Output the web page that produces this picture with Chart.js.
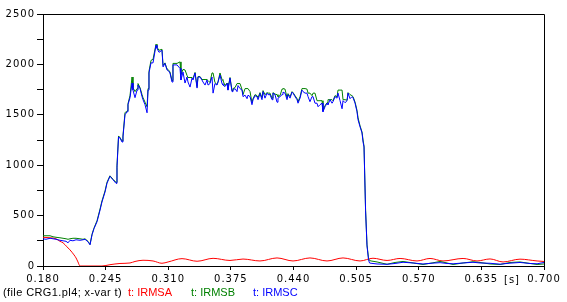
<!DOCTYPE html>
<html><head><meta charset="utf-8">
<script src="https://cdn.jsdelivr.net/npm/chart.js@4.4.1/dist/chart.umd.min.js"></script>
<style>
html,body{margin:0;padding:0;background:#fff;}
#wrap{position:relative;width:567px;height:302px;overflow:hidden;}
canvas{display:block;}
.lg{position:absolute;font-family:"Liberation Sans",Arial,sans-serif;font-size:11px;white-space:nowrap;line-height:11px;}
</style></head>
<body>
<div id="wrap">
<canvas id="c" width="567" height="302"></canvas>
<div class="lg" style="left:3px;top:287px;color:#000;letter-spacing:0.4px;">(file CRG1.pl4; x-var t)</div>
<div class="lg" style="left:128px;top:287px;color:#ff0000;">t: IRMSA</div>
<div class="lg" style="left:191px;top:287px;color:#008000;">t: IRMSB</div>
<div class="lg" style="left:253px;top:287px;color:#0000ff;">t: IRMSC</div>
<div class="lg" style="left:504px;top:274px;color:#000;font-family:'DejaVu Sans';font-size:10px;letter-spacing:1px;">[s]</div>
</div>
<script>
const xTicks = [0.180,0.245,0.310,0.375,0.440,0.505,0.570,0.635,0.700];
const yTicks = [0,250,500,750,1000,1250,1500,1750,2000,2250,2500];

const timeA = [0.1800,0.1873,0.1935,0.1976,0.2008,0.2049,0.2080,0.2122,0.2143,0.2163,0.2184,0.2412,0.2495,0.2599,0.2703,0.2755,0.2838,0.2942,0.3035,0.3098,0.3243,0.3399,0.3565,0.3741,0.3876,0.4052,0.4229,0.4395,0.4571,0.4748,0.4914,0.5091,0.5225,0.5371,0.5506,0.5682,0.5817,0.5952,0.6160,0.6305,0.6440,0.6575,0.6751,0.6928,0.7000];
const irmsA = [285,280,270,245,230,190,160,110,80,40,0,0,13,25,30,45,57,50,27,40,73,47,76,55,69,50,80,50,80,50,80,50,77,55,75,50,75,50,75,50,70,40,68,50,45];

const timeBC = [
0.1800,0.1831,0.1873,0.1904,0.1935,0.1976,0.2008,0.2039,0.2060,0.2080,
0.2111,0.2143,0.2184,0.2215,0.2236,0.2267,0.2288,0.2309,0.2329,0.2361,
0.2392,0.2412,0.2444,0.2464,0.2495,0.2527,0.2558,0.2568,0.2584,0.2599,
0.2620,0.2630,0.2651,0.2672,0.2682,0.2703,0.2724,0.2734,0.2755,0.2776,
0.2786,0.2807,0.2828,0.2838,0.2859,0.2880,0.2890,0.2900,0.2921,0.2942,
0.2952,0.2973,0.2983,0.3004,0.3035,0.3046,0.3066,0.3087,0.3098,0.3118,
0.3139,0.3149,0.3191,0.3222,0.3232,0.3253,0.3274,0.3295,0.3305,0.3326,
0.3347,0.3357,0.3378,0.3399,0.3409,0.3430,0.3450,0.3461,0.3482,0.3502,
0.3513,0.3533,0.3554,0.3565,0.3585,0.3606,0.3617,0.3637,0.3658,0.3668,
0.3689,0.3710,0.3720,0.3741,0.3762,0.3772,0.3793,0.3814,0.3824,0.3845,
0.3866,0.3876,0.3897,0.3918,0.3928,0.3949,0.3969,0.3980,0.4001,0.4021,
0.4032,0.4052,0.4073,0.4084,0.4104,0.4125,0.4136,0.4156,0.4177,0.4187,
0.4208,0.4229,0.4239,0.4260,0.4281,0.4291,0.4312,0.4333,0.4343,0.4364,
0.4385,0.4395,0.4416,0.4437,0.4447,0.4468,0.4488,0.4499,0.4520,0.4540,
0.4551,0.4571,0.4592,0.4603,0.4623,0.4644,0.4655,0.4675,0.4696,0.4706,
0.4727,0.4748,0.4758,0.4779,0.4800,0.4810,0.4831,0.4852,0.4862,0.4883,
0.4904,0.4914,0.4935,0.4956,0.4966,0.4987,0.5007,0.5018,0.5039,0.5059,
0.5070,0.5091,0.5111,0.5122,0.5132,0.5148,0.5163,0.5179,0.5189,
0.5205,0.5267,0.5371,0.5454,0.5537,0.5641,0.5744,0.5838,0.5921,0.5994,0.6056,0.6160,0.6263,0.6336,0.6440,0.6544,0.6647,0.6751,0.6855,0.6928,0.7000];

const irmsB = [
300,300,300,290,285,280,275,270,265,270,
275,275,270,265,270,245,215,315,375,450,
565,645,745,830,895,860,830,1000,1290,1275,
1240,1290,1520,1540,1610,1690,1875,1770,1730,1760,
1810,1770,1700,1670,1625,1580,1760,1930,2040,2050,
2050,2200,2170,2140,2150,1990,2015,1955,1950,1925,
1840,2010,2010,2025,1900,1950,1945,1890,1870,1870,
1870,1860,1920,1780,1880,1880,1850,1850,1850,1850,
1840,1820,1915,1915,1820,1800,1830,1915,1850,1840,
1790,1815,1760,1870,1740,1760,1770,1810,1810,1810,
1750,1700,1760,1760,1760,1730,1620,1660,1700,1690,
1670,1720,1670,1740,1700,1720,1715,1715,1665,1720,
1705,1700,1680,1690,1755,1760,1755,1670,1710,1680,
1730,1720,1690,1660,1630,1680,1760,1760,1760,1755,
1715,1715,1690,1715,1715,1640,1640,1640,1640,1545,
1590,1620,1650,1650,1650,1640,1690,1680,1745,1745,
1745,1650,1650,1645,1720,1700,1690,1680,1625,1545,
1470,1390,1330,1250,1190,560,210,75,55,
50,40,17,35,45,30,15,30,45,30,15,30,42,35,20,15,35,40,25,15,20];

const irmsC = [
270,265,275,270,265,255,250,245,230,255,
250,260,255,260,265,240,210,310,370,440,
555,635,735,820,890,855,820,980,1280,1270,
1230,1280,1500,1530,1600,1670,1815,1745,1670,1745,
1795,1760,1680,1650,1600,1520,1745,1915,2015,2015,
2015,2190,2160,2120,2140,1975,2010,1945,1940,1915,
1825,1995,1995,1960,1845,1925,1815,1875,1825,1775,
1865,1845,1915,1765,1875,1875,1845,1825,1795,1845,
1795,1810,1875,1715,1810,1795,1825,1895,1810,1795,
1780,1810,1745,1865,1730,1745,1760,1730,1790,1760,
1745,1680,1695,1660,1695,1680,1600,1650,1690,1680,
1650,1710,1650,1730,1665,1715,1700,1700,1650,1715,
1700,1625,1665,1680,1700,1725,1715,1650,1700,1665,
1725,1715,1680,1650,1615,1665,1745,1730,1715,1715,
1680,1630,1680,1680,1615,1615,1580,1600,1615,1530,
1580,1615,1600,1650,1615,1630,1680,1665,1715,1640,
1560,1640,1620,1640,1715,1660,1680,1670,1615,1530,
1450,1380,1320,1230,1180,550,200,60,30,
27,20,17,25,37,30,20,28,33,25,22,30,37,30,27,18,28,35,25,22,35];

const pts = (t, v) => t.map((x, i) => ({x: x, y: v[i]}));

const framePlugin = {
  id: 'frame',
  beforeDraw(chart) { chart.ctx.letterSpacing = '1px'; },
  afterDraw(chart) {
    const a = chart.chartArea, ctx = chart.ctx;
    ctx.save();
    ctx.strokeStyle = '#000'; ctx.lineWidth = 1;
    ctx.beginPath();
    ctx.moveTo(Math.round(a.left) + 0.5, Math.round(a.top) + 0.5);
    ctx.lineTo(Math.round(a.right) + 0.5, Math.round(a.top) + 0.5);
    ctx.lineTo(Math.round(a.right) + 0.5, Math.round(a.bottom) + 0.5);
    ctx.stroke();
    ctx.restore();
  }
};

const tickFont = {family: 'DejaVu Sans', size: 10};

new Chart(document.getElementById('c'), {
  type: 'line',
  data: {
    datasets: [
      {label: 't: IRMSC', data: pts(timeBC, irmsC), borderColor: '#0000ff', borderWidth: 1, pointRadius: 0, tension: 0, order: 0},
      {label: 't: IRMSB', data: pts(timeBC, irmsB), borderColor: '#008000', borderWidth: 1, pointRadius: 0, tension: 0, order: 1},
      {label: 't: IRMSA', data: pts(timeA, irmsA), borderColor: '#ff0000', borderWidth: 1, pointRadius: 0, cubicInterpolationMode: 'monotone', order: 2}
    ]
  },
  options: {
    responsive: false, animation: false, devicePixelRatio: 1,
    layout: {padding: {left: 0, right: 23, top: 14, bottom: 16}},
    plugins: {legend: {display: false}, tooltip: {enabled: false}},
    scales: {
      x: {
        type: 'linear', min: 0.18, max: 0.70,
        afterBuildTicks: s => { s.ticks = xTicks.map(v => ({value: v})); },
        afterFit: s => { s.height = 20; },
        ticks: {callback: v => Number(v).toFixed(3), maxRotation: 0, autoSkip: false, padding: 3, color: '#000', font: tickFont},
        grid: {drawOnChartArea: false, tickLength: 4, color: '#000'},
        border: {color: '#000'}
      },
      y: {
        type: 'linear', min: 0, max: 2500,
        afterBuildTicks: s => { s.ticks = yTicks.map(v => ({value: v})); },
        afterFit: s => { s.width = 43; },
        ticks: {callback: v => (v % 500 === 0 ? String(v) : ''), autoSkip: false, padding: 2, color: '#000', font: tickFont},
        grid: {drawOnChartArea: false, tickLength: 6, color: '#000'},
        border: {color: '#000'}
      }
    }
  },
  plugins: [framePlugin]
});
</script>
</body></html>
